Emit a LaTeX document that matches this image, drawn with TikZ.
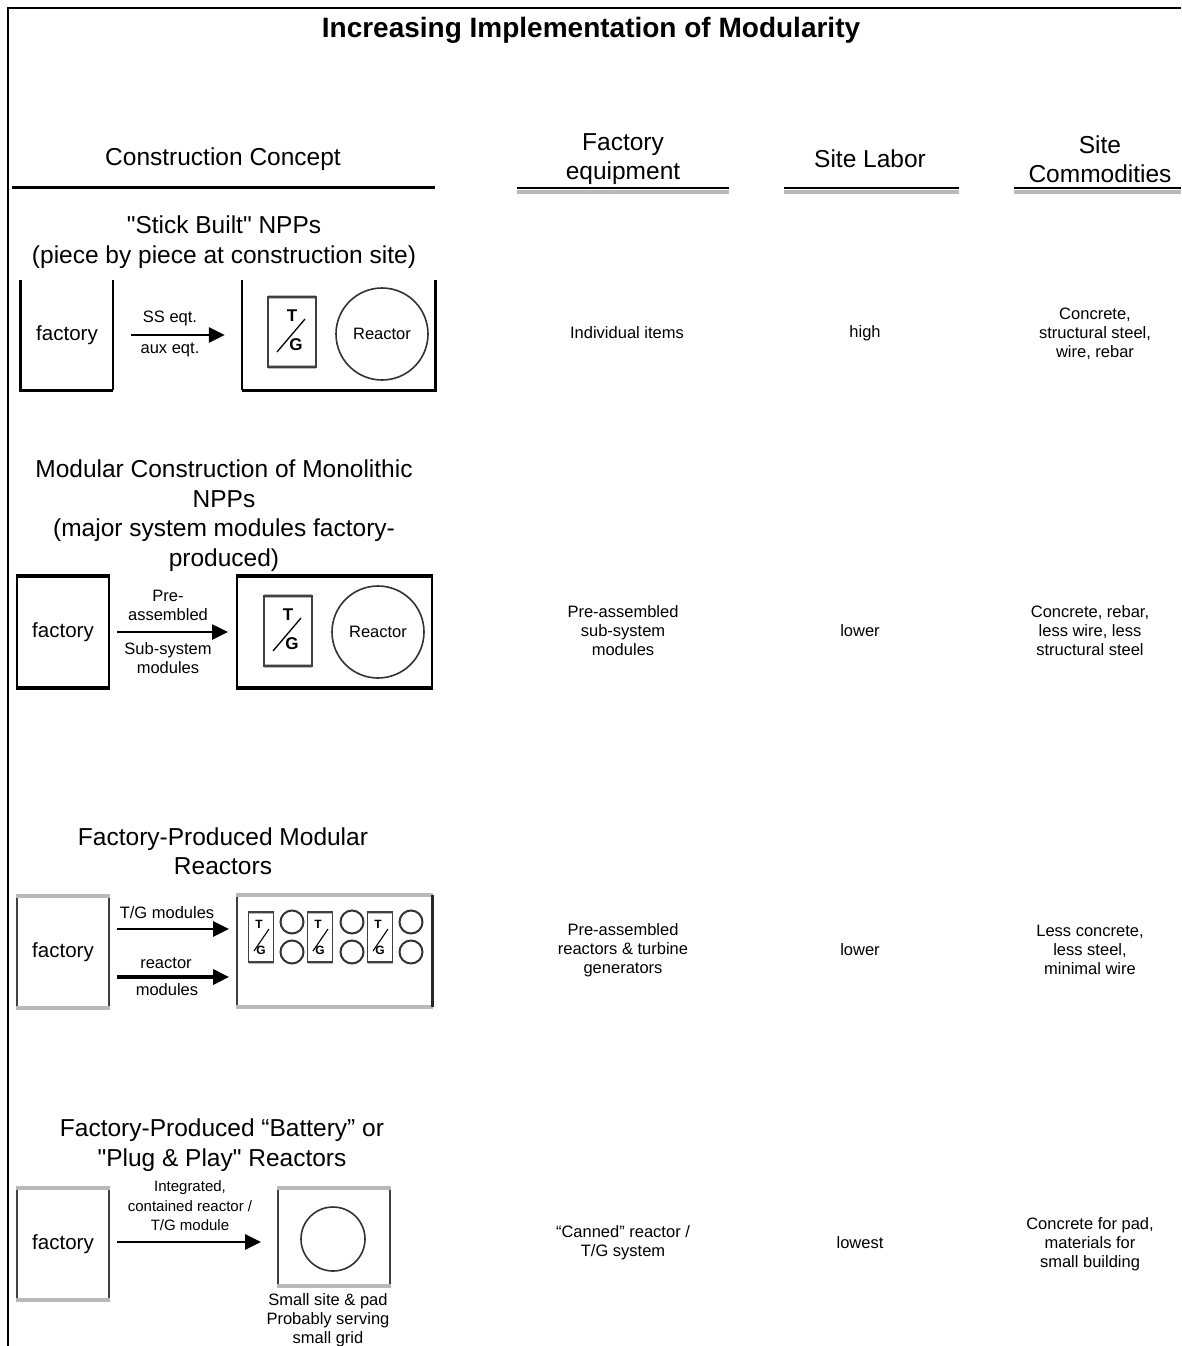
\documentclass[tikz,border=0pt]{standalone}
\usepackage{fontspec}
\setmainfont{Liberation Sans}
\usetikzlibrary{arrows.meta,calc}
\begin{document}
\begin{tikzpicture}[x=1pt,y=-1pt,line join=miter,
  ttl/.style={font=\bfseries\fontsize{28}{32}\selectfont,inner sep=0pt},
  big/.style={font=\fontsize{24.5}{29.5}\selectfont,align=center,inner sep=0pt},
  fac/.style={font=\fontsize{20.5}{24}\selectfont,inner sep=0pt},
  sm/.style={font=\fontsize{16.5}{19}\selectfont,align=center,inner sep=0pt},
  xs/.style={font=\fontsize{15}{19.5}\selectfont,align=center,inner sep=0pt},
  area/.style={inner sep=0pt,minimum width=#1},
  arr/.style={line width=2.6pt,-{Triangle[length=16pt,width=15pt]}},
  grayedge/.style={gray!55,line width=4pt},
  darkedge/.style={black!75,line width=2pt},
  reactor/.style={draw=black!80,line width=1.6pt},
  tgbig/.pic={
    \draw[grayedge] (-24,-35) -- (24,-35) (-24,35) -- (24,35);
    \draw[darkedge] (-24,-35) rectangle (24,35);
    \draw[line width=1.3pt] (-15,20) -- (13,-13);
    \node[sm,font=\bfseries\fontsize{17}{18}\selectfont] (-t) at (0,-16) {T};
    \node[sm,font=\bfseries\fontsize{17}{18}\selectfont] (-g) at (4,13) {G};
  },
  tgsmall/.pic={
    \draw[grayedge,line width=3pt] (-12.5,-25) -- (12.5,-25) (-12.5,25) -- (12.5,25);
    \draw[darkedge,line width=1.8pt] (-12.5,-25) rectangle (12.5,25);
    \draw[line width=1.1pt] (-7,14) -- (8,-8);
    \node[font=\bfseries\fontsize{12}{14}\selectfont,inner sep=0pt] (-t) at (-2,-13) {T};
    \node[font=\bfseries\fontsize{12}{14}\selectfont,inner sep=0pt] (-g) at (0,13) {G};
  }
]
\useasboundingbox (0,0) rectangle (1181,1346);
\fill[white] (0,0) rectangle (1181,1346);
% frame
\draw[line width=2pt] (8,1346) -- (8,8) -- (1181,8);

% header
\node[ttl] (title) at (591,30) {Increasing Implementation of Modularity};
\node[big] (hcc) at (223,159) {Construction Concept};
\node[big] (hfe) at (623,159) {Factory\\equipment};
\node[big] (hsl) at (870,159) {Site Labor};
\node[big] (hsc) at (1100,159) {Site\\Commodities};
\draw[line width=3pt] (12,187) -- (435,187);
\foreach \a/\b in {517/729,784/959,1014/1181}{
  \draw[grayedge] (\a,191.5) -- (\b,191.5);
  \draw[line width=2.6pt] (\a,188) -- (\b,188);
}

% ---------- Row 1 ----------
\node[big] (r1t) at (224,242) {\textquotedbl Stick Built\textquotedbl\ NPPs\\(piece by piece at construction site)};
\node[area=92pt,minimum height=110pt,fac] (f1) at (67,335) {factory};
\draw[line width=3pt] (f1.north west) -- (f1.south west) -- (f1.south east);
\draw[line width=1.8pt] (f1.south east) -- (f1.north east);
\node[area=193pt,minimum height=110pt] (s1) at (338.5,335) {};
\draw[line width=1.8pt] (s1.north west) -- (s1.south west);
\draw[line width=3pt] (s1.south west) -- (s1.south east) -- (s1.north east);
\draw[arr,shorten <=18pt,shorten >=17pt] (f1.east) -- (s1.west);
\node[sm] (l1a) at (170,318) {SS eqt.};
\node[sm] (l1b) at (170,350) {aux eqt.};
\pic (tg1) at (292,332) {tgbig};
\node[reactor,circle,minimum size=92pt,inner sep=0pt,sm] (re1) at (382,334) {Reactor};
\node[sm] (c1a) at (627,333) {Individual items};
\node[sm] (c1b) at (865,333) {high};
\node[sm] (c1c) at (1095,334) {Concrete,\\structural steel,\\wire, rebar};

% ---------- Row 2 ----------
\node[big] (r2t) at (224,515.5) {Modular Construction of Monolithic\\NPPs\\(major system modules factory-\\produced)};
\node[area=92pt,minimum height=110pt,fac,draw,line width=2pt] (f2) at (63,632) {factory};
\draw[line width=4pt] (f2.north west) -- (f2.north east) (f2.south west) -- (f2.south east);
\node[area=195pt,minimum height=110pt,draw,line width=2pt] (s2) at (334.5,632) {};
\draw[line width=4pt] (s2.north west) -- (s2.north east) (s2.south west) -- (s2.south east);
\draw[arr,shorten <=7pt,shorten >=8pt] (f2.east) -- (s2.west);
\node[sm] (l2a) at (168,605) {Pre-\\assembled};
\node[sm] (l2b) at (168,658) {Sub-system\\modules};
\pic (tg2) at (288,631) {tgbig};
\node[reactor,circle,minimum size=92pt,inner sep=0pt,sm] (re2) at (378,632) {Reactor};
\node[sm] (c2a) at (623,631) {Pre-assembled\\sub-system\\modules};
\node[sm] (c2b) at (860,631) {lower};
\node[sm] (c2c) at (1090,631) {Concrete, rebar,\\less wire, less\\structural steel};

% ---------- Row 3 ----------
\node[big] (r3t) at (223,851) {Factory-Produced Modular\\Reactors};
\node[area=92pt,minimum height=111pt,fac,draw=black!75,line width=1.8pt] (f3) at (63,952) {factory};
\draw[grayedge] (f3.north west) -- (f3.north east) (f3.south west) -- (f3.south east);
\node[area=195pt,minimum height=110pt,draw=black!75,line width=1.8pt] (s3) at (334.5,951) {};
\draw[grayedge] (s3.north west) -- (s3.north east) (s3.south west) -- (s3.south east);
\draw[line width=3pt,black!85] (s3.north east) -- (s3.south east);
\coordinate (y3a) at (0,929);
\coordinate (y3b) at (0,977);
\draw[arr,shorten <=7pt,shorten >=7pt] (f3.east |- y3a) -- (s3.west |- y3a);
\draw[arr,line width=3.4pt,shorten <=7pt,shorten >=7pt] (f3.east |- y3b) -- (s3.west |- y3b);
\node[sm] (l3a) at (167,913) {T/G modules};
\node[sm] (l3b) at (166,963) {reactor};
\node[sm] (l3c) at (167,990) {modules};
\foreach \i/\x in {1/261,2/320,3/380}{
  \pic (tg3\i) at (\x,937) {tgsmall};
}
\foreach \i/\x in {1/292,2/352,3/411}{
  \node[reactor,circle,minimum size=23pt,inner sep=0pt,line width=2pt] (ra\i) at (\x,922) {};
  \node[reactor,circle,minimum size=23pt,inner sep=0pt,line width=2pt] (rb\i) at (\x,952) {};
}
\node[sm] (c3a) at (623,950) {Pre-assembled\\reactors \& turbine\\generators};
\node[sm] (c3b) at (860,950) {lower};
\node[sm] (c3c) at (1090,950) {Less concrete,\\less steel,\\minimal wire};

% ---------- Row 4 ----------
\node[big] (r4t) at (222,1145) {Factory-Produced “Battery” or\\\textquotedbl Plug \& Play\textquotedbl\ Reactors};
\node[area=92pt,minimum height=111pt,fac,draw=black!75,line width=1.8pt] (f4) at (63,1244) {factory};
\draw[grayedge] (f4.north west) -- (f4.north east) (f4.south west) -- (f4.south east);
\node[area=112pt,minimum height=97pt,draw=black!75,line width=1.8pt] (s4) at (334,1237) {};
\draw[grayedge] (s4.north west) -- (s4.north east) (s4.south west) -- (s4.south east);
\coordinate (y4) at (0,1242);
\draw[arr,shorten <=7pt,shorten >=16pt] (f4.east |- y4) -- (s4.west |- y4);
\node[xs] (l4) at (190,1206) {Integrated,\\contained reactor /\\T/G module};
\node[reactor,circle,minimum size=64pt,inner sep=0pt] (re4) at (333,1239) {};
\node[sm] (l4b) at (328,1320) {Small site \& pad\\Probably serving\\small grid};
\node[sm] (c4a) at (623,1243) {“Canned” reactor /\\T/G system};
\node[sm] (c4b) at (860,1243) {lowest};
\node[sm] (c4c) at (1090,1244) {Concrete for pad,\\materials for\\small building};
\end{tikzpicture}
\end{document}
